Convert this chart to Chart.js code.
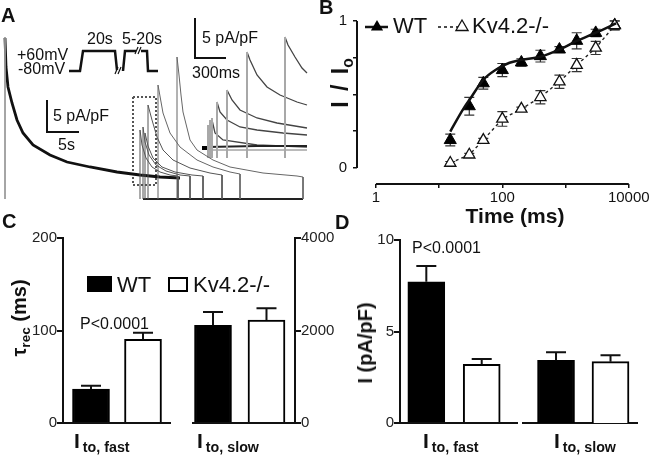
<!DOCTYPE html>
<html><head><meta charset="utf-8">
<script src="https://cdn.jsdelivr.net/npm/chart.js@4.4.1/dist/chart.umd.min.js"></script>
<style>
body{margin:0;background:#fff;width:651px;height:455px;position:relative;overflow:hidden;font-family:'Liberation Sans',Arial,sans-serif;color:#111}
canvas{position:absolute}
.t{position:absolute;white-space:nowrap;line-height:1}
.b{font-weight:bold}
.rot{position:absolute;white-space:nowrap;line-height:1;font-weight:bold;transform:translate(-50%,-50%) rotate(-90deg)}
.sub{font-size:0.68em;position:relative;top:0.3em}
.box{position:absolute;box-sizing:border-box}
</style></head><body>
<canvas id="cA" width="330" height="205" style="left:0;top:0"></canvas>
<canvas id="cB" width="333" height="215" style="left:318px;top:0"></canvas>
<canvas id="cC1" width="175" height="210" style="left:0;top:225px"></canvas>
<canvas id="cC2" width="160" height="210" style="left:185px;top:225px"></canvas>
<canvas id="cD1" width="190" height="210" style="left:335px;top:225px"></canvas>
<canvas id="cD2" width="133" height="210" style="left:518px;top:225px"></canvas>

<!-- Panel A text -->
<div class="t b" style="font-size:20px;left:1px;top:5px">A</div>
<div class="t" style="font-size:16px;left:17px;top:47px">+60mV</div>
<div class="t" style="font-size:16px;left:18px;top:61px">-80mV</div>
<div class="t" style="font-size:16px;left:87px;top:31px">20s</div>
<div class="t" style="font-size:16px;left:122px;top:31px">5-20s</div>
<div class="t" style="font-size:16px;left:53px;top:108px">5 pA/pF</div>
<div class="t" style="font-size:16px;left:58px;top:137px">5s</div>
<div class="t" style="font-size:16px;left:202px;top:30px">5 pA/pF</div>
<div class="t" style="font-size:16px;left:192px;top:65px">300ms</div>

<!-- Panel B text -->
<div class="t b" style="font-size:20px;left:319px;top:-3px">B</div>
<div class="t" style="font-size:22px;left:393px;top:15px">WT</div>
<div class="t" style="font-size:22px;left:472px;top:15px">Kv4.2-/-</div>
<div class="rot" style="font-size:23px;left:340px;top:83px;word-spacing:4px">I / I<span class="sub">o</span></div>
<div class="t b" style="font-size:21px;left:515px;top:205px;transform:translateX(-50%)">Time (ms)</div>

<!-- Panel C text -->
<div class="t b" style="font-size:20px;left:2px;top:211px">C</div>
<div class="box" style="left:87px;top:276px;width:25px;height:16px;background:#000"></div>
<div class="t" style="font-size:22px;left:117px;top:274px">WT</div>
<div class="box" style="left:168px;top:277px;width:20px;height:15px;border:2px solid #000;background:#fff"></div>
<div class="t" style="font-size:22px;left:193px;top:274px">Kv4.2-/-</div>
<div class="t" style="font-size:16px;left:80px;top:316px">P&lt;0.0001</div>
<div class="rot" style="font-size:20px;left:19px;top:318px">τ<span class="sub">rec</span> (ms)</div>
<div class="t b" style="font-size:21px;left:74px;top:430px">I<span class="sub" style="margin-left:3px">to, fast</span></div>
<div class="t b" style="font-size:21px;left:197px;top:430px">I<span class="sub" style="margin-left:3px">to, slow</span></div>

<!-- Panel D text -->
<div class="t b" style="font-size:20px;left:335px;top:212px">D</div>
<div class="t" style="font-size:16px;left:412px;top:240px">P&lt;0.0001</div>
<div class="rot" style="font-size:20px;left:365px;top:343px">I (pA/pF)</div>
<div class="t b" style="font-size:21px;left:423px;top:430px">I<span class="sub" style="margin-left:3px">to, fast</span></div>
<div class="t b" style="font-size:21px;left:554px;top:430px">I<span class="sub" style="margin-left:3px">to, slow</span></div>

<script>
// ---------------- DATA ----------------
// Panel A: current traces (panel trace units)
const aMainTrace=[[5,38],[6,67],[8,87],[12,103],[17,120],[23,133],[33,145],[50,155],[67,162],[90,167],[117,172],[140,175],[160,177],[180,178]];
const aStartLine=[[5,37],[5,199]];
const aRec1=[[140,199],[140,130],[142,145],[146,158],[152,167],[160,172],[170,175],[178,176],[178,199]];
const aRec2=[[143,199],[143,127],[145,142],[149,155],[156,165],[166,171],[180,175],[190,176],[190,199]];
const aRec3=[[145,199],[145,133],[148,146],[153,158],[162,167],[175,172],[192,175],[203,176],[203,199]];
const aRec4=[[148,199],[148,105],[152,120],[157,137],[163,150],[173,160],[190,168],[210,173],[222,175],[222,199]];
const aRec5=[[158,199],[158,85],[163,113],[170,133],[180,147],[197,160],[213,167],[230,172],[240,174],[240,199]];
const aRec6=[[177,199],[177,57],[179,75],[181,95],[183,112],[187,128],[190,140],[197,150],[213,160],[230,167],[263,173],[297,176],[303,177],[303,199]];
const aBottom=[[143,199],[303,199]];
const aBox=[[133,97],[156,97],[156,185],[133,185],[133,97]];
// inset traces
const aInsFlat=[[207,150],[257,150],[307,150]];
const aInsBase=[[207,147],[257,146],[307,146]];
const aIns1=[[212,120],[215,133],[223,140],[257,145],[307,147]];
const aIns2=[[217,102],[220,112],[227,120],[240,127],[257,130],[283,133],[307,135]];
const aIns3=[[227,90],[232,100],[240,110],[257,118],[277,123],[307,128]];
const aIns4=[[247,52],[250,60],[257,75],[267,87],[280,95],[297,102],[307,105]];
const aIns5=[[285,37],[288,45],[295,57],[302,68],[307,73]];
const aInsSpikes=[[208,125],[210,120],[212,118],[217,102],[227,90],[247,52],[285,37]];
const aInsSpikeBase=158;
const aInsMark=[[202,148],[207,148]];
// protocol and scale bars
const aProto1=[[69,71],[80,71],[83,51],[115,51],[117,70]];
const aProto2=[[123,71],[125,51],[136,51]];
const aProto3=[[141,51],[147,51],[148,71],[158,71]];
const aBreaks=[[[115,74],[118,67]],[[118,74],[121,67]],[[135,54],[138,47]],[[138,54],[141,47]]];
const aScale1=[[47,100],[47,132],[79,132]];
const aScale2=[[195,18],[195,58],[226,58]];

// Panel B: recovery from inactivation
const recTimes=[15,30,50,100,200,400,800,1500,3000,6000];
const wtRec=[0.19,0.42,0.576,0.666,0.718,0.761,0.806,0.865,0.919,0.971];
const wtErr=[0.04,0.06,0.04,0.045,0.025,0.04,0.02,0.055,0.025,0.03];
const koRec=[0.034,0.09,0.19,0.334,0.402,0.481,0.587,0.70,0.817,0.97];
const koErr=[0.01,0.01,0.012,0.05,0.012,0.045,0.045,0.045,0.045,0.03];
const wtFitT=[15,24,32,50,80,130,190,400,810,1500,3000,6300];
const wtFitY=[0.248,0.40,0.48,0.60,0.67,0.716,0.734,0.757,0.807,0.864,0.92,0.984];
const bXTicks=[1,10,100,1000,10000];
const bXLabels=[1,100,10000];
const bYTicks=[0,0.25,0.5,0.75,1];
const bYLabels=[0,1];

// Panel C: tau rec (fast: ms, left axis; slow: ms, right axis)
const groups=['WT','Kv4.2-/-'];
const cFastTau=[36.8,90.5];
const cFastErr=[3.5,7.1];
const cSlowTau=[2112,2227];
const cSlowErr=[288,253];
// Panel D: current density (pA/pF)
const dFastI=[7.72,3.21];
const dFastErr=[0.86,0.29];
const dSlowI=[3.43,3.35];
const dSlowErr=[0.43,0.35];

// ---------------- HELPERS ----------------
Chart.defaults.font.family="'Liberation Sans', Arial, sans-serif";
Chart.defaults.color='#111';
const pts=a=>a.map(p=>({x:p[0],y:p[1]}));
const lineDs=(a,c,w,dash)=>({data:pts(a),showLine:true,borderColor:c,borderWidth:w,pointRadius:0,borderDash:dash||[],fill:false,tension:0,clip:false});
const base={animation:false,responsive:false,events:[],plugins:{legend:{display:false},tooltip:{enabled:false}}};

// ---------------- PANEL A ----------------
(function(){
  const ds=[];
  ds.push(lineDs(aStartLine,'#999',1));
  [aRec1,aRec2,aRec3,aRec4].forEach(a=>ds.push(lineDs(a,'#555',1)));
  ds.push(lineDs(aRec5,'#666',1));
  ds.push(lineDs(aRec6,'#666',1));
  ds.push(lineDs(aBottom,'#222',2));
  ds.push(lineDs(aMainTrace,'#111',2.8));
  ds.push(lineDs(aBox,'#555',2,[2,2]));
  aInsSpikes.forEach(p=>ds.push(lineDs([[p[0],aInsSpikeBase],p],'#a8a8a8',2)));
  ds.push(lineDs(aInsFlat,'#777',1));
  ds.push(lineDs(aInsBase,'#222',2));
  [aIns1,aIns2,aIns3,aIns4,aIns5].forEach(a=>ds.push(lineDs(a,'#444',1.3)));
  ds.push(lineDs(aInsMark,'#000',4));
  [aProto1,aProto2,aProto3].forEach(a=>ds.push(lineDs(a,'#111',2.5)));
  aBreaks.forEach(a=>ds.push(lineDs(a,'#111',1.2)));
  ds.push(lineDs(aScale1,'#111',2));
  ds.push(lineDs(aScale2,'#111',2));
  new Chart(document.getElementById('cA'),{type:'scatter',data:{datasets:ds},
    options:Object.assign({},base,{layout:{padding:0},
      scales:{x:{type:'linear',display:false,min:0,max:330},y:{type:'linear',display:false,min:0,max:205,reverse:true}}})});
})();

// ---------------- PANEL B ----------------
(function(){
  const errPlugin={id:'berr',beforeDatasetsDraw(chart){
    const ctx=chart.ctx,xs=chart.scales.x,ys=chart.scales.y;
    ctx.save();
    ctx.strokeStyle='#111';ctx.lineWidth=2;
    ctx.beginPath();
    ctx.moveTo(xs.getPixelForValue(bXTicks[0]),chart.chartArea.bottom);
    ctx.lineTo(xs.getPixelForValue(bXTicks[bXTicks.length-1]),chart.chartArea.bottom);
    ctx.moveTo(chart.chartArea.left,ys.getPixelForValue(bYTicks[0]));
    ctx.lineTo(chart.chartArea.left,ys.getPixelForValue(bYTicks[bYTicks.length-1]));
    ctx.stroke();
    ctx.strokeStyle='#333';ctx.lineWidth=1.2;
    [[wtRec,wtErr],[koRec,koErr]].forEach(([v,e])=>{
      recTimes.forEach((t,i)=>{
        const x=xs.getPixelForValue(t),y1=ys.getPixelForValue(v[i]-e[i]),y2=ys.getPixelForValue(v[i]+e[i]);
        ctx.beginPath();ctx.moveTo(x,y1);ctx.lineTo(x,y2);
        ctx.moveTo(x-5,y1);ctx.lineTo(x+5,y1);ctx.moveTo(x-5,y2);ctx.lineTo(x+5,y2);ctx.stroke();
      });
    });
    ctx.restore();
  },afterDraw(chart){
    const ctx=chart.ctx;ctx.save();
    const tri=(x,y,r,fill)=>{ctx.beginPath();ctx.moveTo(x,y-r);ctx.lineTo(x+r*0.87,y+r*0.5);ctx.lineTo(x-r*0.87,y+r*0.5);ctx.closePath();
      if(fill){ctx.fillStyle='#000';ctx.fill();}else{ctx.fillStyle='#fff';ctx.fill();ctx.strokeStyle='#111';ctx.lineWidth=1.3;ctx.stroke();}};
    ctx.strokeStyle='#111';ctx.lineWidth=2.5;
    ctx.beginPath();ctx.moveTo(47,27);ctx.lineTo(70,27);ctx.stroke();
    tri(59,27,7,true);
    ctx.lineWidth=1.5;ctx.setLineDash([3,3]);
    ctx.beginPath();ctx.moveTo(120,27);ctx.lineTo(150,27);ctx.stroke();ctx.setLineDash([]);
    tri(144,27,7,false);
    ctx.restore();
  }};
  const tickGrid={display:true,drawOnChartArea:false,drawTicks:true,tickLength:4,color:'#111',lineWidth:1.5};
  new Chart(document.getElementById('cB'),{type:'scatter',
    data:{datasets:[
      {data:wtFitT.map((t,i)=>({x:t,y:wtFitY[i]})),showLine:true,borderColor:'#111',borderWidth:2.5,pointRadius:0,cubicInterpolationMode:'monotone',clip:false},
      {data:recTimes.map((t,i)=>({x:t,y:koRec[i]})),showLine:true,borderColor:'#222',borderWidth:1.4,borderDash:[3,3],
        pointStyle:'triangle',pointRadius:6.5,pointBackgroundColor:'#fff',pointBorderColor:'#111',pointBorderWidth:1.3,clip:false},
      {data:recTimes.map((t,i)=>({x:t,y:wtRec[i]})),showLine:false,pointStyle:'triangle',pointRadius:7,
        pointBackgroundColor:'#000',pointBorderColor:'#000',pointBorderWidth:1,clip:false}
    ]},
    options:Object.assign({},base,{layout:{padding:{top:21,right:11,left:0,bottom:0}},
      scales:{
        x:{type:'logarithmic',min:0.502,max:14360,
          afterBuildTicks:s=>{s.ticks=bXTicks.map(v=>({value:v}));},
          afterFit:s=>{s.height=31;},
          ticks:{autoSkip:false,maxRotation:0,padding:1,font:{size:15},color:'#111',
            callback:v=>bXLabels.includes(v)?String(v):''},
          grid:tickGrid,border:{display:false}},
        y:{type:'linear',min:-0.109,max:1,
          afterBuildTicks:s=>{s.ticks=bYTicks.map(v=>({value:v}));},
          afterFit:s=>{s.width=39;},
          ticks:{autoSkip:false,padding:6,font:{size:15},color:'#111',
            callback:v=>bYLabels.includes(v)?String(v):''},
          grid:tickGrid,border:{display:false}}
      }}),
    plugins:[errPlugin]});
})();

// ---------------- PANELS C & D ----------------
function barChart(id,means,errs,yOpt,xMin,xMax,pad){
  const errPlugin={id:'err'+id,afterDatasetsDraw(chart){
    const ctx=chart.ctx,ys=chart.scales.y,meta=chart.getDatasetMeta(0);
    ctx.save();ctx.strokeStyle='#111';ctx.lineWidth=2;
    meta.data.forEach((bar,i)=>{
      const y1=ys.getPixelForValue(means[i]),y2=ys.getPixelForValue(means[i]+errs[i]);
      ctx.beginPath();ctx.moveTo(bar.x,y1);ctx.lineTo(bar.x,y2);ctx.moveTo(bar.x-10,y2);ctx.lineTo(bar.x+10,y2);ctx.stroke();
    });
    ctx.restore();
  }};
  new Chart(document.getElementById(id),{type:'bar',
    data:{datasets:[{label:groups.join(' / '),data:means.map((m,i)=>({x:i+1,y:m})),
      backgroundColor:['#000','#fff'],borderColor:'#000',borderWidth:2,borderSkipped:'bottom',barThickness:37}]},
    options:Object.assign({},base,{layout:{padding:pad},
      scales:{
        x:{type:'linear',min:xMin,max:xMax,offset:false,afterFit:s=>{s.height=0;},
          ticks:{display:false},grid:{display:false,offset:false},border:{display:true,color:'#111',width:2}},
        y:yOpt
      }}),
    plugins:[errPlugin]});
}
const yCommon=(min,max,step,pos,w,show)=>({type:'linear',position:pos,display:show,min:min,max:max,
  ticks:{stepSize:step,padding:0,font:{size:15},color:'#222',callback:v=>String(v)},
  afterFit:s=>{s.width=w;},
  grid:{display:true,drawOnChartArea:false,drawTicks:true,tickLength:6,color:'#111',lineWidth:2},
  border:{display:true,color:'#111',width:2}});

barChart('cC1',cFastTau,cFastErr,yCommon(0,200,100,'left',63,true),0.4615,2.519,{top:13,right:5,bottom:12,left:0});
barChart('cC2',cSlowTau,cSlowErr,yCommon(0,4000,2000,'right',50,true),0.626,2.533,{top:13,right:0,bottom:12,left:8});
barChart('cD1',dFastI,dFastErr,yCommon(0,10,5,'left',65,true),0.525,2.637,{top:15,right:8,bottom:12,left:0});
barChart('cD2',dSlowI,dSlowErr,yCommon(0,10,5,'left',0,false),0.394,2.486,{top:15,right:14,bottom:12,left:5});
</script>
</body></html>
